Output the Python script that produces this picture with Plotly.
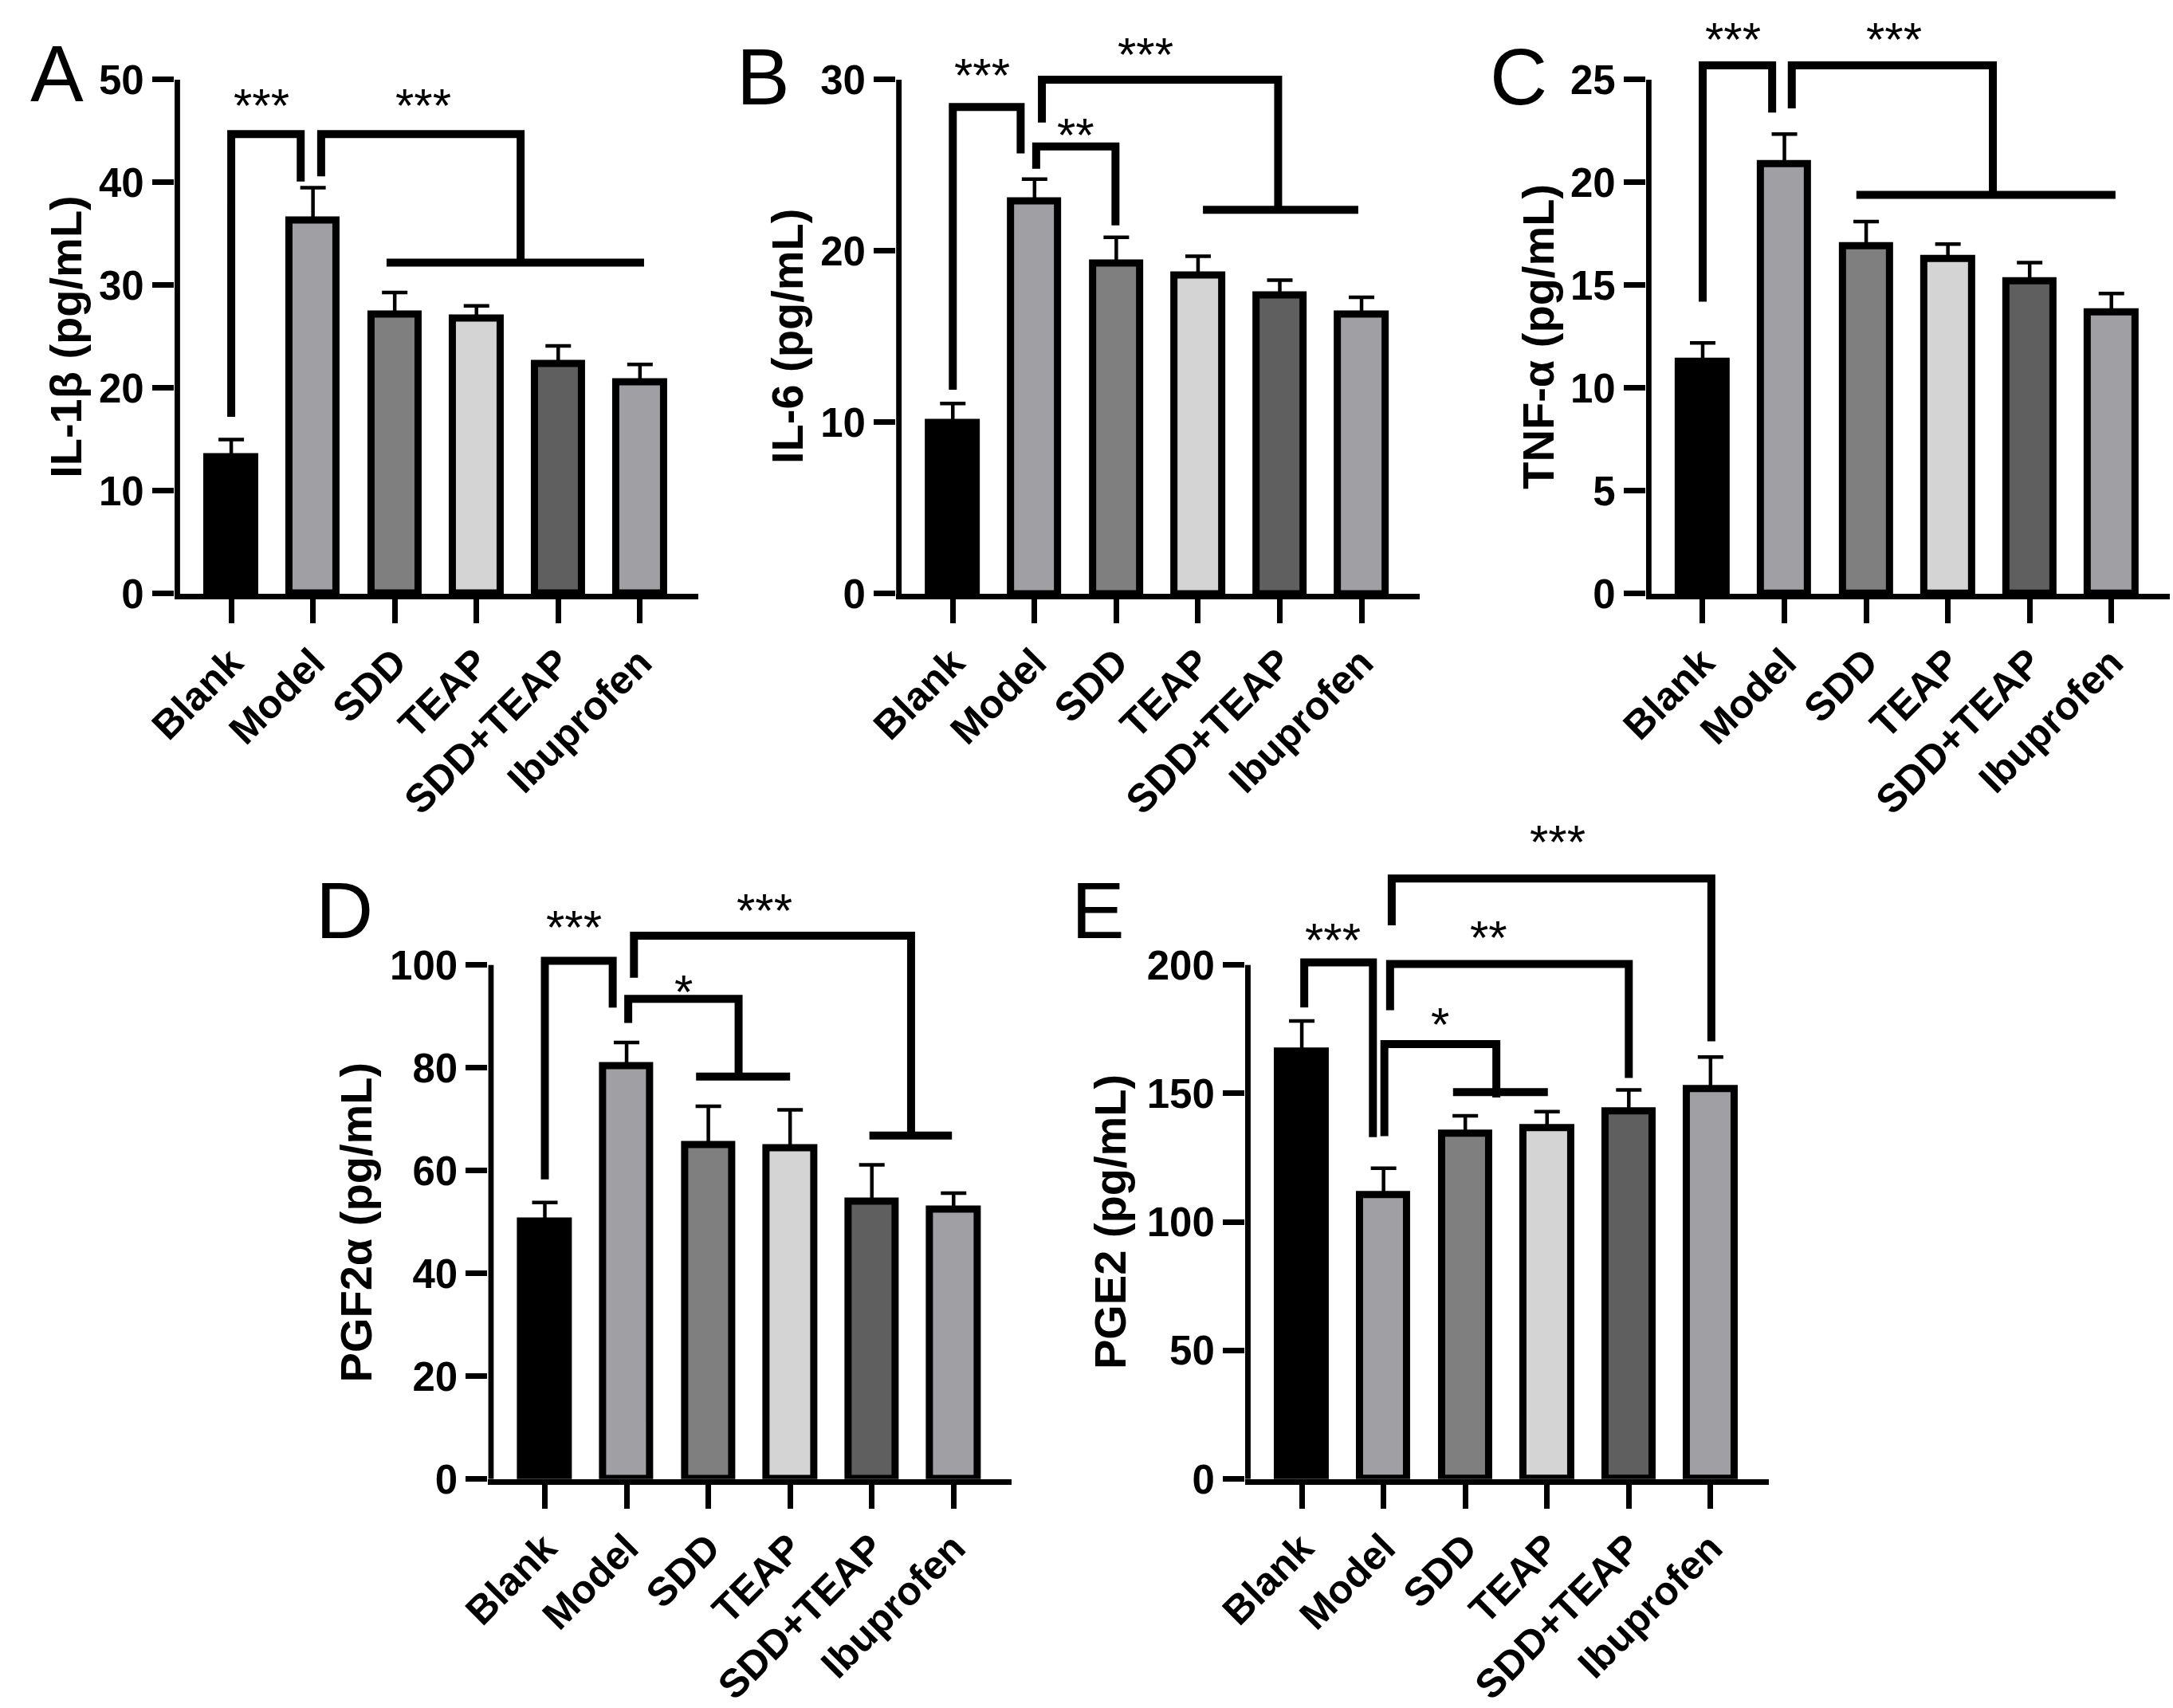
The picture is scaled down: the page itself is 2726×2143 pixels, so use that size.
import plotly.graph_objects as go

W, H = 2726, 2143

groups = ["Blank", "Model", "SDD", "TEAP", "SDD+TEAP", "Ibuprofen"]
bar_colors = ["#000000", "#a09fa4", "#7f7f7f", "#d4d4d4", "#5f5f5f", "#a09fa4"]

# panel A - IL-1beta
il1b_mean = [13.3, 36.3, 27.2, 26.8, 22.4, 20.6]
il1b_err = [1.7, 3.2, 2.1, 1.2, 1.7, 1.7]
il1b_brackets = [([0, 0, 0.85, 0.85], [17.2, 44.7, 44.7, 40.1]),
                 ([1.1, 1.1, 3.54, 3.54], [40.6, 44.7, 44.7, 32.2]),
                 ([1.9, 5.05], [32.2, 32.2])]
il1b_stars = [("***", 0.37, 48.6), ("***", 2.35, 48.6)]

# panel B - IL-6
il6_mean = [10.0, 22.9, 19.3, 18.6, 17.4, 16.3]
il6_err = [1.1, 1.3, 1.5, 1.1, 0.9, 1.0]
il6_brackets = [([0, 0, 0.83, 0.83], [11.9, 28.4, 28.4, 25.7]),
                ([1.02, 1.02, 1.99, 1.99], [24.8, 26.1, 26.1, 21.5]),
                ([1.09, 1.09, 3.98, 3.98], [27.5, 30.0, 30.0, 22.4]),
                ([3.06, 4.96], [22.4, 22.4])]
il6_stars = [("***", 0.36, 30.9), ("**", 1.5, 27.4), ("***", 2.36, 32.1)]

# panel C - TNF-alpha
tnf_mean = [11.3, 20.9, 16.9, 16.3, 15.2, 13.7]
tnf_err = [0.9, 1.45, 1.2, 0.7, 0.9, 0.9]
tnf_brackets = [([0, 0, 0.85, 0.85], [14.2, 25.7, 25.7, 23.4]),
                ([1.09, 1.09, 3.55, 3.55], [23.6, 25.7, 25.7, 19.5]),
                ([1.88, 5.05], [19.4, 19.4])]
tnf_stars = [("***", 0.37, 27.5), ("***", 2.34, 27.5)]

# panel D - PGF2alpha
pgf_mean = [50.2, 80.4, 65.0, 64.4, 54.0, 52.4]
pgf_err = [3.6, 4.5, 7.5, 7.4, 7.1, 3.2]
pgf_brackets = [([0, 0, 0.83, 0.83], [58.3, 100.8, 100.8, 91.7]),
                ([1.02, 1.02, 2.37, 2.37], [88.7, 93.4, 93.4, 78.6]),
                ([1.85, 3.0], [78.3, 78.3]),
                ([1.09, 1.09, 4.48, 4.48], [97.5, 105.7, 105.7, 67.0]),
                ([3.97, 4.98], [66.8, 66.8])]
pgf_stars = [("***", 0.36, 109.5), ("*", 1.7, 96.9), ("***", 2.69, 112.8)]

# panel E - PGE2
pge_mean = [166.4, 110.5, 134.4, 136.4, 143.2, 151.8]
pge_err = [11.8, 10.4, 6.9, 6.5, 8.2, 12.4]
pge_brackets = [([0.03, 0.03, 0.87, 0.87], [183.5, 201.0, 201.0, 133.0]),
                ([1.01, 1.01, 2.38, 2.38], [133.4, 169.2, 169.2, 148.4]),
                ([1.85, 3.01], [150.5, 150.5]),
                ([1.08, 1.08, 4.0, 4.0], [182.4, 200.4, 200.4, 156.0]),
                ([1.1, 1.1, 5.01, 5.01], [215.4, 233.6, 233.6, 170.3])]
pge_stars = [("***", 0.38, 214), ("*", 1.69, 181), ("**", 2.29, 215), ("***", 3.13, 252)]

panels = [
    dict(letter="A", title="IL-1β (pg/mL)", mean=il1b_mean, err=il1b_err, ymax=50, ylim=50.5, dtick=10,
         brackets=il1b_brackets, stars=il1b_stars, left=187, base=742, title_x=45, letter_x=34, letter_top=32),
    dict(letter="B", title="IL-6 (pg/mL)", mean=il6_mean, err=il6_err, ymax=30, ylim=33, dtick=10,
         brackets=il6_brackets, stars=il6_stars, left=1105, base=742, title_x=963, letter_x=932, letter_top=36),
    dict(letter="C", title="TNF-α (pg/mL)", mean=tnf_mean, err=tnf_err, ymax=25, ylim=27.8, dtick=5,
         brackets=tnf_brackets, stars=tnf_stars, left=2059, base=742, title_x=1918, letter_x=1893, letter_top=36),
    dict(letter="D", title="PGF2α (pg/mL)", mean=pgf_mean, err=pgf_err, ymax=100, ylim=114, dtick=20,
         brackets=pgf_brackets, stars=pgf_stars, left=586, base=1882, title_x=414, letter_x=400, letter_top=1110),
    dict(letter="E", title="PGE2 (pg/mL)", mean=pge_mean, err=pge_err, ymax=200, ylim=255, dtick=50,
         brackets=pge_brackets, stars=pge_stars, left=1549, base=1882, title_x=1373, letter_x=1358, letter_top=1110),
]

AXIS_X = -0.66        # category position of the y axis line
XMAX = 5.71
SPACING = 104         # px per category
AX_H = 662            # px from 0 to the top tick
AX_LW = 7
FONT = "Liberation Sans, Arial, sans-serif"

xmin = AXIS_X - AX_LW / 2 / SPACING

fig = go.Figure()
annotations = []
positions = list(range(len(groups)))

for i, p in enumerate(panels, start=1):
    xa = "x" if i == 1 else f"x{i}"
    ya = "y" if i == 1 else f"y{i}"
    suffix = "" if i == 1 else str(i)

    fig.add_trace(go.Bar(
        x=positions, y=p["mean"], width=0.58,
        marker=dict(color=bar_colors, line=dict(color="black", width=9)),
        error_y=dict(type="data", array=p["err"], arrayminus=[0] * len(groups),
                     symmetric=False, color="black", thickness=4.5, width=16),
        xaxis=xa, yaxis=ya, showlegend=False, hoverinfo="skip",
    ))

    # y axis line, only from 0 up to the last tick
    fig.add_trace(go.Scatter(
        x=[AXIS_X, AXIS_X], y=[0, p["ymax"]], mode="lines",
        line=dict(color="black", width=AX_LW),
        xaxis=xa, yaxis=ya, showlegend=False, hoverinfo="skip",
    ))

    for bx, by in p["brackets"]:
        fig.add_trace(go.Scatter(
            x=bx, y=by, mode="lines", line=dict(color="black", width=10),
            xaxis=xa, yaxis=ya, showlegend=False, hoverinfo="skip",
        ))

    for txt, sx, sy in p["stars"]:
        annotations.append(dict(
            text=txt, x=sx, y=sy, xref=xa, yref=ya, showarrow=False,
            xanchor="center", yanchor="middle", yshift=-14,
            font=dict(family=FONT, size=60, color="black"),
        ))

    px_per_unit = AX_H / p["ymax"]
    x0 = p["left"] / W - (AX_LW / 2) / W
    x1 = (p["left"] + (XMAX - AXIS_X) * SPACING) / W
    y0 = 1 - p["base"] / H
    y1 = 1 - (p["base"] - p["ylim"] * px_per_unit) / H

    fig.layout["xaxis" + suffix] = dict(
        domain=[x0, x1], anchor=ya, range=[xmin, XMAX],
        tickvals=positions, ticktext=groups, tickangle=-45,
        showline=True, linewidth=AX_LW, linecolor="black",
        ticks="outside", ticklen=30, tickwidth=7, tickcolor="black",
        showgrid=False, zeroline=False,
        tickfont=dict(family=FONT, size=50, color="black", weight="bold"),
    )
    fig.layout["yaxis" + suffix] = dict(
        domain=[y0, y1], anchor=xa, range=[0, p["ylim"]],
        tickvals=list(range(0, p["ymax"] + 1, p["dtick"])),
        showline=False,
        ticks="outside", ticklen=27, tickwidth=7, tickcolor="black",
        showgrid=False, zeroline=False,
        tickfont=dict(family=FONT, size=51, color="black", weight="bold"),
    )

    annotations.append(dict(
        text=p["title"], x=p["title_x"] / W, y=1 - (p["base"] - AX_H / 2) / H,
        xref="paper", yref="paper",
        textangle=-90, showarrow=False, xanchor="center", yanchor="middle",
        font=dict(family=FONT, size=56, color="black", weight="bold"),
    ))
    annotations.append(dict(
        text=p["letter"], x=p["letter_x"] / W, y=1 - (p["letter_top"] - 20) / H,
        xref="paper", yref="paper", showarrow=False, xanchor="center", yanchor="top",
        font=dict(family=FONT, size=100, color="black"),
    ))

fig.update_layout(
    width=W, height=H, margin=dict(l=0, r=0, t=0, b=0),
    paper_bgcolor="white", plot_bgcolor="white",
    bargap=0, annotations=annotations,
)

fig.write_html("out.html", config={"displayModeBar": False},
               post_script="document.body.style.margin='0px';")
